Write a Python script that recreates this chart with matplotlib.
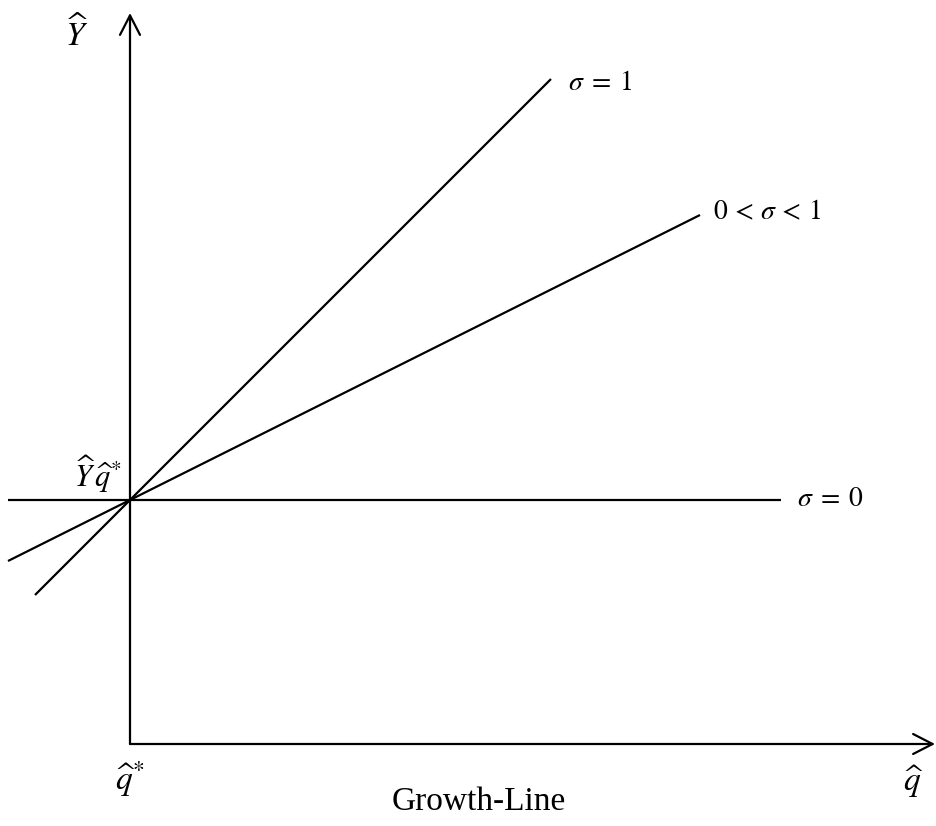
import matplotlib
matplotlib.use("Agg")
import matplotlib.pyplot as plt

plt.rcParams["mathtext.fontset"] = "stix"
plt.rcParams["font.family"] = "Liberation Serif"

# growth lines: slope, left end, right end, label
slopes = [1.0, 0.5, 0.0]
x_start = [-95, -122, -122]
x_end = [421, 570, 651]
line_labels = [r"$\sigma\;=\;1$", r"$0\,<\,\sigma\,<\,1$", r"$\sigma\;=\;0$"]
label_pos = [(438, 661), (583, 531), (667, 244)]
intercept = 244  # value of Y^ at q^*

x_axis_end = 805
y_axis_end = 731

fig = plt.figure(figsize=(9.37, 8.26), dpi=100)
ax = fig.add_axes([0, 0, 1, 1])
ax.set_xlim(-130, 807)
ax.set_ylim(-82, 744)
ax.axis("off")

# axes with open arrowheads
arrow = dict(arrowstyle="->,head_length=0.7,head_width=0.36", lw=1.6,
             color="black", mutation_scale=20, shrinkA=0, shrinkB=0)
ax.annotate("", xy=(0, y_axis_end), xytext=(0, 0), arrowprops=arrow)
ax.annotate("", xy=(x_axis_end, 0), xytext=(0, 0), arrowprops=arrow)

for s, x0, x1, lab, pos in zip(slopes, x_start, x_end, line_labels, label_pos):
    ax.plot([x0, x1], [intercept + s * x0, intercept + s * x1],
            color="black", lw=1.6, solid_capstyle="butt")
    ax.text(pos[0], pos[1], lab, fontsize=20, ha="left", va="center")

ax.text(-53, 710, r"$\widehat{Y}$", fontsize=24, ha="center", va="center")
ax.text(-8, 270, r"$\widehat{Y}\,\widehat{q}^{*}$", fontsize=22, ha="right", va="center")
ax.text(0, -35, r"$\widehat{q}^{*}$", fontsize=24, ha="center", va="center")
ax.text(783, -38, r"$\widehat{q}$", fontsize=24, ha="center", va="center")
ax.text(349, -58, "Growth-Line", fontsize=24, ha="center", va="center")

fig.savefig("out.png", dpi=100)
